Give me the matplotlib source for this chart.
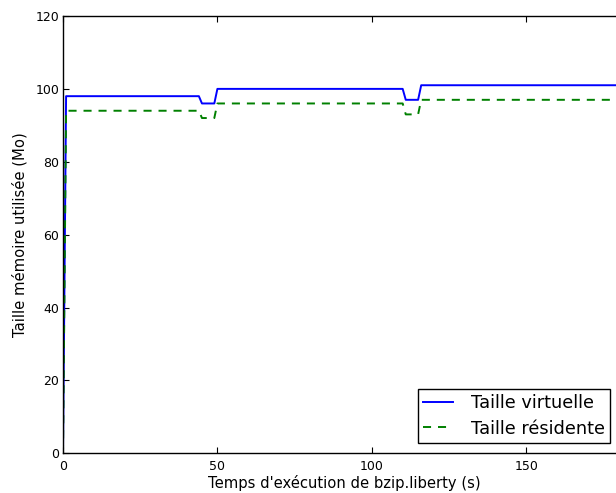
import matplotlib
matplotlib.use('Agg')
import matplotlib.pyplot as plt

# memory usage samples (s, Mo)
temps = [0, 1, 44, 45, 49, 50, 110, 111, 115, 116, 182]
taille_virtuelle = [0, 98, 98, 96, 96, 100, 100, 97, 97, 101, 101]
taille_residente = [0, 94, 94, 92, 92, 96, 96, 93, 93, 97, 97]

x_ticks = [0, 50, 100, 150]
y_ticks = [0, 20, 40, 60, 80, 100, 120]

plt.rcParams['font.family'] = ['DejaVu Sans']
plt.rcParams['lines.scale_dashes'] = False

fig = plt.figure(figsize=(6.16, 4.93), dpi=100)
# axes runs past the right edge, the original picture was cropped
ax = fig.add_axes([63 / 616, 1 - 453.3 / 493, 562 / 616, 437.3 / 493])

ax.plot(temps, taille_virtuelle, color='#0000ff', lw=1.4, label='Taille virtuelle')
ax.plot(temps, taille_residente, color='#008000', lw=1.4, dashes=(5.8, 5.0),
        label='Taille résidente')

ax.set_xlim(0, 182)
ax.set_ylim(0, 120)
ax.set_xticks(x_ticks)
ax.set_yticks(y_ticks)

ax.tick_params(direction='in', length=4, width=0.8, top=True, right=True,
               labelsize=9, colors='black')
ax.tick_params(axis='x', pad=4.5)
ax.tick_params(axis='y', pad=2.7)
for s in ax.spines.values():
    s.set_linewidth(1.0)
    s.set_color('black')

ax.set_xlabel("Temps d'exécution de bzip.liberty (s)", fontsize=10.6)
ax.set_ylabel('Taille mémoire utilisée (Mo)', fontsize=10.6)
ax.xaxis.set_label_coords(0.5, -0.05)
ax.yaxis.set_label_coords(-0.064, 0.5)

leg = ax.legend(loc='lower right', bbox_to_anchor=(610 / 616, 50 / 493),
                bbox_transform=fig.transFigure, borderaxespad=0,
                fontsize=12.75, fancybox=False, framealpha=1,
                handlelength=1.7, handletextpad=1.0, borderpad=0.3,
                labelspacing=0.42)
leg.get_frame().set_edgecolor('black')
leg.get_frame().set_linewidth(1.0)

fig.savefig('out.png', dpi=100)
